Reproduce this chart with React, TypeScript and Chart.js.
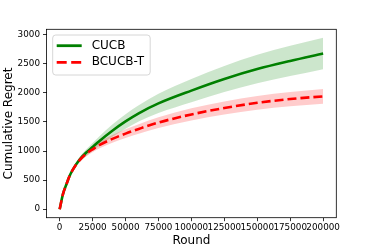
import React, { useEffect, useRef } from "react";
import { Chart, registerables } from "chart.js";

Chart.register(...registerables);

const ROUNDS = [0, 2500, 5000, 7500, 10000, 15000, 20000, 25000, 30000, 40000, 50000, 60000, 75000, 100000, 125000, 150000, 175000, 200000];
const CUCB = [0, 260, 420, 570, 680, 850, 970, 1070, 1170, 1350, 1510, 1650, 1820, 2040, 2240, 2410, 2550, 2678];
const CUCB_SD = [0, 10, 18, 25, 32, 45, 58, 70, 82, 105, 125, 140, 165, 200, 225, 245, 260, 270];
const BCUCB = [0, 260, 420, 570, 680, 840, 950, 1030, 1100, 1210, 1300, 1380, 1490, 1630, 1740, 1830, 1895, 1941];
const BCUCB_SD = [0, 8, 14, 20, 25, 33, 42, 50, 56, 66, 75, 82, 92, 105, 112, 118, 123, 127];
const X_TICKS = [0, 25000, 50000, 75000, 100000, 125000, 150000, 175000, 200000];
const Y_TICKS = [0, 500, 1000, 1500, 2000, 2500, 3000];
const LABELS = ["CUCB", "BCUCB-T"];

const FONT = "'DejaVu Sans', sans-serif";
const GREEN = "#008000";
const RED = "#ff0000";

const pts = (ys: number[]) => ROUNDS.map((x, i) => ({ x, y: ys[i] }));

const framePlugin = {
  id: "frameLegend",
  afterDraw(chart: any) {
    const { ctx, chartArea: a } = chart;
    ctx.save();
    ctx.strokeStyle = "#000";
    ctx.lineWidth = 0.8;
    ctx.strokeRect(a.left, a.top, a.right - a.left, a.bottom - a.top);
    // legend
    const bx = 52.7, by = 35, bw = 97.5, bh = 40, r = 3;
    ctx.beginPath();
    ctx.moveTo(bx + r, by);
    ctx.lineTo(bx + bw - r, by);
    ctx.quadraticCurveTo(bx + bw, by, bx + bw, by + r);
    ctx.lineTo(bx + bw, by + bh - r);
    ctx.quadraticCurveTo(bx + bw, by + bh, bx + bw - r, by + bh);
    ctx.lineTo(bx + r, by + bh);
    ctx.quadraticCurveTo(bx, by + bh, bx, by + bh - r);
    ctx.lineTo(bx, by + r);
    ctx.quadraticCurveTo(bx, by, bx + r, by);
    ctx.closePath();
    ctx.fillStyle = "rgba(255,255,255,0.8)";
    ctx.fill();
    ctx.strokeStyle = "#cccccc";
    ctx.lineWidth = 0.8;
    ctx.stroke();
    const rows = [45.7, 62.3];
    const colors = [GREEN, RED];
    rows.forEach((yy, i) => {
      ctx.beginPath();
      ctx.strokeStyle = colors[i];
      ctx.lineWidth = 2.8;
      ctx.setLineDash(i === 1 ? [10, 4.5] : []);
      ctx.moveTo(56.7, yy);
      ctx.lineTo(81.7, yy);
      ctx.stroke();
      ctx.setLineDash([]);
      ctx.fillStyle = "#000";
      ctx.font = `12px ${FONT}`;
      ctx.textBaseline = "middle";
      ctx.textAlign = "left";
      ctx.fillText(LABELS[i], 91.7, yy);
    });
    ctx.restore();
  },
};

export default function App() {
  const ref = useRef<HTMLCanvasElement>(null);
  useEffect(() => {
    const upper = (m: number[], s: number[]) => m.map((v, i) => v + s[i]);
    const lower = (m: number[], s: number[]) => m.map((v, i) => v - s[i]);
    const chart = new Chart(ref.current!, {
      type: "line",
      data: {
        datasets: [
          { data: pts(BCUCB), borderColor: RED, borderWidth: 2.6, borderDash: [9, 4], pointRadius: 0, fill: false, order: 0, cubicInterpolationMode: "monotone" } as any,
          { data: pts(CUCB), borderColor: GREEN, borderWidth: 2.6, pointRadius: 0, fill: false, order: 1, cubicInterpolationMode: "monotone" } as any,
          { data: pts(upper(BCUCB, BCUCB_SD)), borderWidth: 0, borderColor: "rgba(0,0,0,0)", backgroundColor: "rgba(255,0,0,0.2)", pointRadius: 0, fill: "+1", order: 2, cubicInterpolationMode: "monotone" } as any,
          { data: pts(lower(BCUCB, BCUCB_SD)), borderWidth: 0, borderColor: "rgba(0,0,0,0)", pointRadius: 0, fill: false, order: 2, cubicInterpolationMode: "monotone" } as any,
          { data: pts(upper(CUCB, CUCB_SD)), borderWidth: 0, borderColor: "rgba(0,0,0,0)", backgroundColor: "rgba(0,128,0,0.2)", pointRadius: 0, fill: "+1", order: 3, cubicInterpolationMode: "monotone" } as any,
          { data: pts(lower(CUCB, CUCB_SD)), borderWidth: 0, borderColor: "rgba(0,0,0,0)", pointRadius: 0, fill: false, order: 3, cubicInterpolationMode: "monotone" } as any,
        ],
      },
      options: {
        animation: false,
        responsive: false,
        devicePixelRatio: 1,
        layout: { padding: { top: 29.3, right: 37.7, left: 0, bottom: 0 } },
        plugins: { legend: { display: false }, tooltip: { enabled: false } },
        scales: {
          x: {
            type: "linear",
            min: -10000,
            max: 210000,
            afterBuildTicks: (s: any) => { s.ticks = X_TICKS.map((v) => ({ value: v })); },
            afterFit: (s: any) => { s.height = 31.3; },
            grid: { display: true, drawOnChartArea: false, drawTicks: true, tickLength: 3.5, tickColor: "#000", tickWidth: 0.8 },
            border: { display: false },
            ticks: { autoSkip: false, maxRotation: 0, minRotation: 0, padding: 1, color: "#000", font: { family: FONT, size: 8.8 }, callback: (v: any) => String(v) },
            title: { display: true, text: "Round", color: "#000", font: { family: FONT, size: 12 }, padding: { top: 0, bottom: 1.1 } },
          },
          y: {
            type: "linear",
            min: -147,
            max: 3095,
            afterBuildTicks: (s: any) => { s.ticks = Y_TICKS.map((v) => ({ value: v })); },
            afterFit: (s: any) => { s.width = 46.5; },
            grid: { display: true, drawOnChartArea: false, drawTicks: true, tickLength: 3.5, tickColor: "#000", tickWidth: 0.8 },
            border: { display: false },
            ticks: { autoSkip: false, padding: 3, color: "#000", font: { family: FONT, size: 8.8 }, callback: (v: any) => String(v) },
            title: { display: true, text: "Cumulative Regret", color: "#000", font: { family: FONT, size: 12 }, padding: { top: 1.3, bottom: 0 } },
          },
        },
      },
      plugins: [framePlugin],
    });
    return () => chart.destroy();
  }, []);
  return (
    <div style={{ position: "fixed", left: 0, top: 0, width: 374, height: 249, background: "#fff" }}>
      <canvas ref={ref} width={374} height={249} style={{ width: 374, height: 249, display: "block" }} />
    </div>
  );
}
